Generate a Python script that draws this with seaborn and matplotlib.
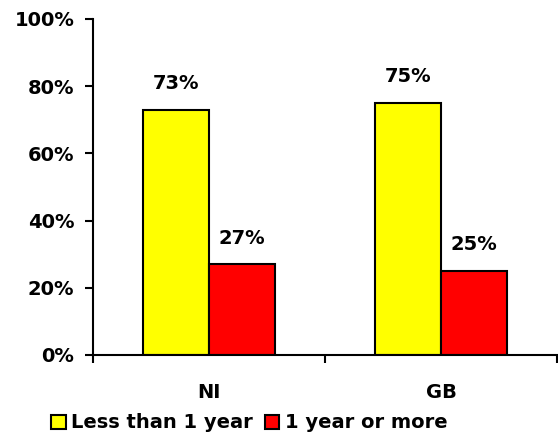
import matplotlib
matplotlib.use("Agg")
import matplotlib.pyplot as plt
import seaborn as sns
import pandas as pd
from matplotlib.ticker import FixedLocator

categories = ["NI", "GB"]
series_names = ["Less than 1 year", "1 year or more"]
less_than_1_year = [73, 75]
one_year_or_more = [27, 25]
y_ticks = [0, 20, 40, 60, 80, 100]
y_tick_labels = ["0%", "20%", "40%", "60%", "80%", "100%"]
colors = ["#FFFF00", "#FF0000"]

df = pd.DataFrame({
    "region": categories * 2,
    "duration": [series_names[0]] * 2 + [series_names[1]] * 2,
    "value": less_than_1_year + one_year_or_more,
})

sns.set_style("white")
plt.rcParams["font.family"] = ["DejaVu Sans"]
plt.rcParams["font.weight"] = "bold"
plt.rcParams["text.color"] = "black"
plt.rcParams["xtick.color"] = "black"
plt.rcParams["ytick.color"] = "black"
plt.rcParams["xtick.labelcolor"] = "black"
plt.rcParams["ytick.labelcolor"] = "black"

fs = 14
fig = plt.figure(figsize=(5.58, 4.45), dpi=100)
ax = fig.add_axes([93 / 558, 1 - 355 / 445, (557 - 93) / 558, (355 - 19) / 445])

sns.barplot(data=df, x="region", y="value", hue="duration", order=categories,
            hue_order=series_names, palette=colors, width=0.57,
            edgecolor="black", linewidth=1.5, saturation=1, ax=ax, legend=True)

for container in ax.containers:
    for bar in container:
        h = bar.get_height()
        ax.annotate(f"{h:.0f}%", (bar.get_x() + bar.get_width() / 2, h),
                    xytext=(0, 26), textcoords="offset pixels",
                    ha="center", va="center", fontsize=fs, fontweight="bold",
                    color="black")

ax.set_xlim(-0.5, 1.5)
ax.set_ylim(0, 100)
ax.set_yticks(y_ticks)
ax.set_yticklabels(y_tick_labels, fontsize=fs, fontweight="bold", color="black")
ax.set_xticks(range(len(categories)))
ax.set_xticklabels(categories, fontsize=fs, fontweight="bold", color="black")
ax.xaxis.set_minor_locator(FixedLocator([-0.5, 0.5, 1.5]))
ax.tick_params(axis="x", which="major", length=0, pad=20)
ax.tick_params(axis="x", which="minor", length=6, width=1.5, color="black", direction="out", bottom=True)
ax.tick_params(axis="y", length=6, width=1.5, color="black", direction="out", pad=7.5, left=True)
ax.set_xlabel("")
ax.set_ylabel("")

for s in ["top", "right"]:
    ax.spines[s].set_visible(False)
for s in ["left", "bottom"]:
    ax.spines[s].set_color("black")
    ax.spines[s].set_linewidth(1.5)

handles, labels = ax.get_legend_handles_labels()
ax.get_legend().remove()
leg = fig.legend(handles, labels, loc="center left",
                 bbox_to_anchor=(51 / 558, 1 - 423 / 445), bbox_transform=fig.transFigure,
                 ncol=2, frameon=False, borderpad=0, borderaxespad=0,
                 handlelength=0.75, handleheight=0.75, handletextpad=0.3,
                 columnspacing=0.6, prop={"size": fs, "weight": "bold"})
for t in leg.get_texts():
    t.set_color("black")

fig.savefig("out.png", dpi=100)
